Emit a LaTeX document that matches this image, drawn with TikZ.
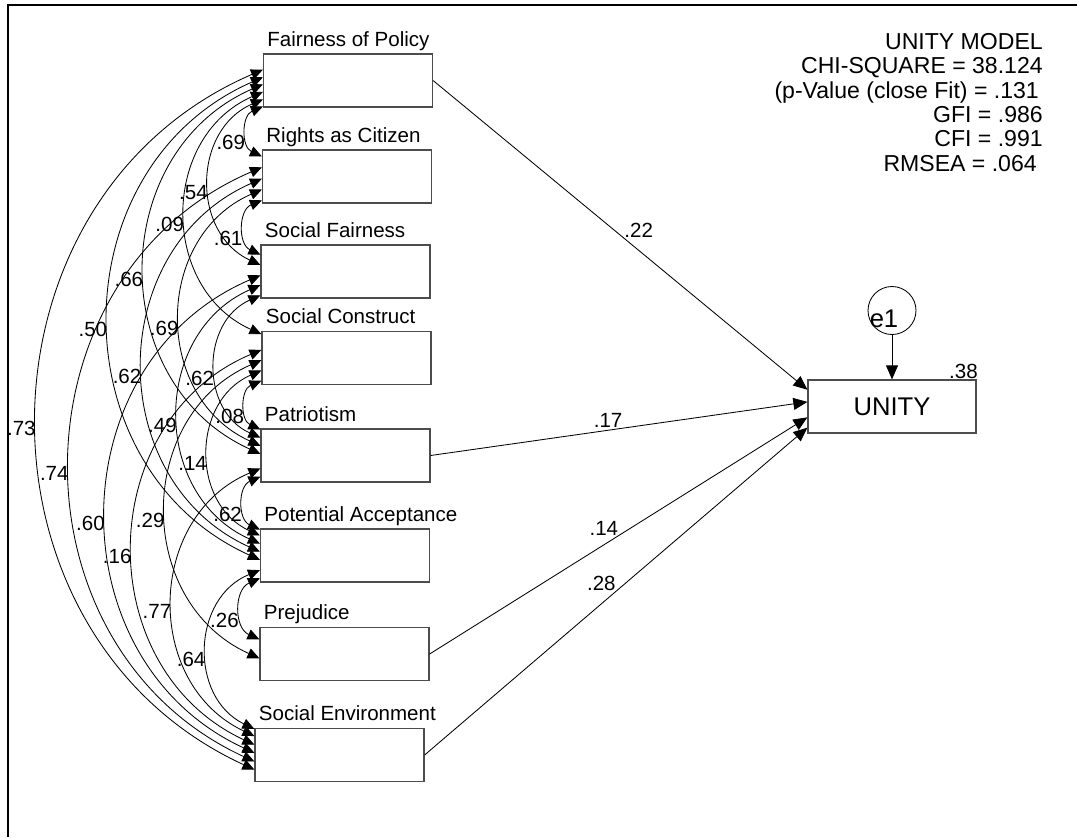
\documentclass[tikz,border=0pt]{standalone}
\usepackage{fontspec}
\setmainfont{Liberation Sans}
\usetikzlibrary{arrows.meta,calc}

\newcommand{\lblsize}{\fontsize{14.6}{17}\selectfont}
\newcommand{\statsize}{\fontsize{16.4}{17.3}\selectfont}
\newcommand{\bigsize}{\fontsize{18.2}{21}\selectfont}

\tikzset{
  var/.style={draw=black!70, line width=0.8pt, minimum width=4.225cm, minimum height=1.325cm, inner sep=0pt},
  vlabel/.style={anchor=base west, inner sep=0pt, font=\lblsize},
  coef/.style={font=\lblsize, inner sep=0.8pt},
  cov/.style={<->, line width=0.6pt},
  covarc/.style={bend right=66, looseness=1.18},
  effect/.style={->, line width=0.6pt, >={Triangle[length=10pt,width=8.5pt]}}
}

\begin{document}
\begin{tikzpicture}[x=0.025cm, y=-0.025cm, >={Triangle[length=8.5pt,width=7.5pt]}]
\useasboundingbox (0,0) rectangle (1077,837);
% frame
\draw[line width=1.4pt] (1077,5) -- (8,5) -- (8,837);

% observed variables
\node[var] (F)  at (348,80.5)  {};
\node[var] (R)  at (347,176.5) {};
\node[var] (SF) at (345.5,271.5) {};
\node[var] (SC) at (346.5,358) {};
\node[var] (P)  at (345.5,455.5) {};
\node[var] (PA) at (345,555.5) {};
\node[var] (PR) at (344.5,654) {};
\node[var] (SE) at (339.5,755) {};

\node[vlabel] (Ft)  at ([xshift=3pt,yshift=5pt]F.north west)  {Fairness of Policy};
\node[vlabel] (Rt)  at ([xshift=3pt,yshift=5pt]R.north west)  {Rights as Citizen};
\node[vlabel] (SFt) at ([xshift=3pt,yshift=5pt]SF.north west) {Social Fairness};
\node[vlabel] (SCt) at ([xshift=3pt,yshift=5pt]SC.north west) {Social Construct};
\node[vlabel] (Pt)  at ([xshift=3pt,yshift=5pt]P.north west)  {Patriotism};
\node[vlabel] (PAt) at ([xshift=3pt,yshift=5pt]PA.north west) {Potential Acceptance};
\node[vlabel] (PRt) at ([xshift=3pt,yshift=5pt]PR.north west) {Prejudice};
\node[vlabel] (SEt) at ([xshift=3pt,yshift=5pt]SE.north west) {Social Environment};

% outcome and error
\node[var, minimum width=4.2cm, font=\bigsize] (U) at (892,406.5) {UNITY};
\node[coef, anchor=south east, inner sep=0pt] (r2) at ([xshift=1pt]U.north east) {.38};
\node[circle, draw, line width=0.6pt, minimum size=1.2cm, inner sep=0pt,
  label={[font=\bigsize, xshift=-5.7pt, yshift=-5.7pt]center:e1}] (e1) at (892,310.5) {};
\draw[effect] (e1) -- (U);

% correlations
\foreach \a/\fa/\b/\fb/\v in {F/0.98/R/0.13/.69, F/0.85/SF/0.38/.54, F/0.71/SC/0.06/.09,
  F/0.57/P/0.47/.66, F/0.44/PA/0.58/.50, F/0.30/SE/0.77/.73,
  R/0.94/SF/0.19/.61, R/0.74/P/0.32/.69, R/0.54/PA/0.43/.62, R/0.33/SE/0.62/.74,
  SF/0.94/P/0.17/.62, SF/0.75/PA/0.28/.49, SF/0.57/SE/0.46/.60,
  SC/0.92/P/0.02/.08, SC/0.73/PA/0.13/.14, SC/0.54/PR/0.58/.29, SC/0.35/SE/0.31/.16,
  P/0.89/PA/0.02/.62, P/0.74/SE/0.15/.77,
  PA/0.92/PR/0.23/.26, PA/0.77/SE/0.02/.64}
  \draw[cov] ($(\a.north west)!\fa!(\a.south west)$) to[covarc]
    node[coef, pos=0.5, anchor=north east, yshift=-2pt] {\v} ($(\b.north west)!\fb!(\b.south west)$);

% regression weights
\draw[effect] (F.east) -- node[coef, pos=0.51, anchor=south west, inner sep=0pt] {.22} ($(U.north west)!0.19!(U.south west)$);
\draw[effect] (P.east) -- node[coef, pos=0.51, anchor=south east, inner sep=0pt] {.17} ($(U.north west)!0.415!(U.south west)$);
\draw[effect] (PR.east) -- node[coef, pos=0.5, anchor=south east, inner sep=0pt] {.14} ($(U.north west)!0.70!(U.south west)$);
\draw[effect] (SE.east) -- node[coef, pos=0.5, anchor=south east, inner sep=0pt] {.28} ($(U.north west)!0.89!(U.south west)$);

% fit indices
\node[anchor=north east, align=right, inner sep=0pt, font=\statsize] (fit) at (1043,33)
  {UNITY MODEL\\CHI-SQUARE = 38.124\\(p-Value (close Fit) = .131\kern2.8pt\\GFI = .986\\CFI = .991\\RMSEA = .064\kern4.3pt};
\end{tikzpicture}
\end{document}
